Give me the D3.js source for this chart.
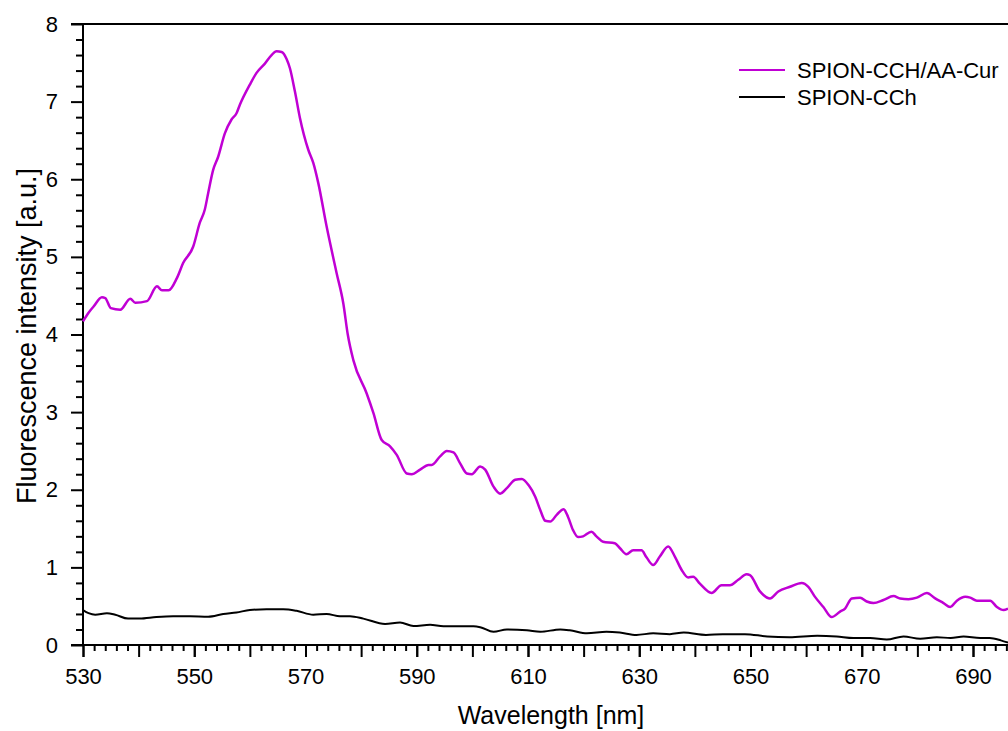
<!DOCTYPE html>
<html>
<head>
<meta charset="utf-8">
<script src="https://cdn.jsdelivr.net/npm/d3@7"></script>
<style>
  html, body { margin: 0; padding: 0; background: #fff; overflow: hidden; }
  svg { display: block; font-family: "Liberation Sans", Arial, sans-serif; }
</style>
</head>
<body>
<svg id="chart" width="1008" height="731"></svg>
<script>
// ---- data ----
const seriesNames = ["SPION-CCH/AA-Cur", "SPION-CCh"];
const seriesColors = ["#c000d4", "#000000"];

const wavelengthA = [530.0,531.0,531.9,533.4,534.0,535.0,536.7,538.5,539.4,541.5,543.3,544.2,545.4,546.9,548.0,549.8,551.0,551.9,552.5,553.4,554.3,555.5,556.7,557.6,558.2,560.0,561.2,562.7,563.9,564.8,565.7,566.6,567.2,568.1,569.0,570.5,571.4,572.3,573.8,575.6,576.8,577.6,578.6,581.0,582.2,583.7,585.2,586.4,588.2,589.1,590.6,592.1,592.7,594.2,595.4,596.6,597.8,599.0,599.9,601.4,602.3,603.8,605.0,606.2,607.7,608.9,610.1,611.3,612.2,613.1,614.0,615.2,616.4,617.2,618.1,619.0,619.9,621.4,622.3,623.5,625.6,626.5,627.7,628.9,630.4,631.3,632.5,633.7,635.2,636.4,637.6,638.8,639.7,640.9,643.0,644.8,646.3,647.8,649.3,649.9,651.7,653.5,655.0,657.1,659.2,660.4,661.6,663.1,664.6,666.1,667.0,668.2,669.7,670.9,672.1,673.9,675.7,676.9,678.4,679.9,681.7,683.2,684.7,685.9,687.1,688.6,689.5,690.7,691.9,693.1,694.3,695.5,696.3];
const intensityA = [4.17,4.28,4.36,4.48,4.47,4.34,4.32,4.46,4.41,4.43,4.62,4.57,4.57,4.73,4.92,5.13,5.44,5.61,5.82,6.12,6.29,6.59,6.77,6.85,6.96,7.22,7.37,7.49,7.60,7.65,7.64,7.55,7.43,7.13,6.79,6.38,6.21,5.95,5.39,4.79,4.40,4.00,3.67,3.24,2.99,2.64,2.56,2.45,2.21,2.20,2.26,2.32,2.32,2.43,2.50,2.48,2.34,2.21,2.20,2.30,2.26,2.04,1.95,2.02,2.13,2.14,2.06,1.91,1.74,1.60,1.59,1.68,1.75,1.65,1.48,1.39,1.40,1.46,1.40,1.33,1.31,1.25,1.17,1.22,1.22,1.13,1.03,1.14,1.27,1.14,0.97,0.87,0.88,0.79,0.67,0.77,0.77,0.84,0.91,0.90,0.69,0.60,0.69,0.75,0.80,0.75,0.62,0.49,0.36,0.43,0.47,0.60,0.61,0.56,0.54,0.58,0.63,0.60,0.59,0.61,0.67,0.60,0.54,0.49,0.57,0.62,0.61,0.57,0.57,0.57,0.49,0.45,0.47];

const wavelengthB = [530.0,531.0,532.2,534.3,535.8,538.1,540.2,543.2,546.2,549.2,552.5,555.2,557.6,560.0,563.0,566.0,568.4,571.4,573.8,576.2,578.0,580.4,584.3,587.0,589.4,592.4,594.8,600.2,601.4,603.8,606.2,609.8,612.2,615.8,617.5,620.6,624.1,626.5,629.5,632.5,635.5,638.0,642.0,645.0,649.0,653.0,657.0,662.0,665.5,668.5,671.5,674.5,677.5,680.5,683.5,686.0,688.3,691.3,693.0,695.0,696.3];
const intensityB = [0.45,0.41,0.39,0.41,0.39,0.34,0.34,0.36,0.37,0.37,0.365,0.40,0.42,0.45,0.46,0.46,0.44,0.39,0.40,0.37,0.37,0.34,0.27,0.29,0.245,0.26,0.24,0.24,0.23,0.17,0.20,0.19,0.17,0.20,0.19,0.15,0.17,0.16,0.13,0.15,0.14,0.16,0.13,0.14,0.14,0.11,0.10,0.12,0.11,0.09,0.09,0.07,0.11,0.08,0.10,0.09,0.11,0.09,0.09,0.06,0.03];

const xMajorTicks = [530, 550, 570, 590, 610, 630, 650, 670, 690];
const yMajorTicks = [0, 1, 2, 3, 4, 5, 6, 7, 8];
const xLabel = "Wavelength [nm]";
const yLabel = "Fluorescence intensity [a.u.]";

// ---- layout ----
const svg = d3.select("#chart");
const plotLeft = 83, plotTop = 24, plotBottom = 645;
const x = d3.scaleLinear().domain([530, 700]).range([plotLeft, plotLeft + 170 * 5.5625]);
const y = d3.scaleLinear().domain([0, 8]).range([plotBottom, plotTop]);

// minor / medium tick positions
const xMid = d3.range(530, 701, 10);
const xMinor = d3.range(530, 701, 2).filter(v => v % 10 !== 0);
const yMinor = d3.range(0, 8.001, 0.2).map(v => +v.toFixed(1)).filter(v => Math.abs(v - Math.round(v)) > 1e-6);

function styleAxis(g) {
  g.select(".domain").remove();
  g.selectAll(".tick line").attr("stroke", "#000").attr("stroke-width", 2);
  g.selectAll(".tick text").attr("fill", "#000").style("font-size", "22px")
    .style("font-family", '"Liberation Sans", Arial, sans-serif');
}

// x axes
svg.append("g").attr("transform", `translate(0,${plotBottom})`)
  .call(d3.axisBottom(x).tickValues(xMinor).tickSize(6).tickFormat(""))
  .call(styleAxis);
svg.append("g").attr("transform", `translate(0,${plotBottom})`)
  .call(d3.axisBottom(x).tickValues(xMid).tickSize(12).tickFormat(""))
  .call(styleAxis);
svg.append("g").attr("transform", `translate(0,${plotBottom})`)
  .call(d3.axisBottom(x).tickValues(xMajorTicks).tickSize(12).tickPadding(11).tickFormat(d3.format("d")))
  .call(styleAxis);

// y axes
svg.append("g").attr("transform", `translate(${plotLeft},0)`)
  .call(d3.axisLeft(y).tickValues(yMinor).tickSize(7).tickFormat(""))
  .call(styleAxis);
svg.append("g").attr("transform", `translate(${plotLeft},0)`)
  .call(d3.axisLeft(y).tickValues(yMajorTicks).tickSize(12).tickPadding(13).tickFormat(d3.format("d")))
  .call(styleAxis);

// frame lines
svg.append("line").attr("x1", plotLeft).attr("x2", plotLeft).attr("y1", y(8)).attr("y2", y(0))
  .attr("stroke", "#000").attr("stroke-width", 2);
svg.append("line").attr("x1", plotLeft - 12).attr("x2", 1008).attr("y1", y(0)).attr("y2", y(0))
  .attr("stroke", "#000").attr("stroke-width", 2);
svg.append("line").attr("x1", plotLeft - 12).attr("x2", 1008).attr("y1", y(8)).attr("y2", y(8))
  .attr("stroke", "#000").attr("stroke-width", 2);

// curves
const line = d3.line().x(d => x(d[0])).y(d => y(d[1])).curve(d3.curveMonotoneX);
const dataA = wavelengthA.map((w, i) => [w, intensityA[i]]);
const dataB = wavelengthB.map((w, i) => [w, intensityB[i]]);

svg.append("path").datum(dataB).attr("d", line).attr("fill", "none")
  .attr("stroke", seriesColors[1]).attr("stroke-width", 2);
svg.append("path").datum(dataA).attr("d", line).attr("fill", "none")
  .attr("stroke", seriesColors[0]).attr("stroke-width", 2.5);

// axis titles
svg.append("text").attr("x", 551).attr("y", 724).attr("text-anchor", "middle")
  .style("font-size", "25px").text(xLabel);
svg.append("text").attr("transform", `translate(36,336) rotate(-90)`).attr("text-anchor", "middle")
  .style("font-size", "27px").text(yLabel);

// legend
const legend = svg.append("g");
seriesNames.forEach((name, i) => {
  const ly = 70 + i * 27;
  legend.append("line").attr("x1", 739).attr("x2", 785).attr("y1", ly).attr("y2", ly)
    .attr("stroke", seriesColors[i]).attr("stroke-width", 2);
  legend.append("text").attr("x", 797).attr("y", ly + 7.5).style("font-size", "22px")
    .attr("fill", "#000").text(name);
});
</script>
</body>
</html>
